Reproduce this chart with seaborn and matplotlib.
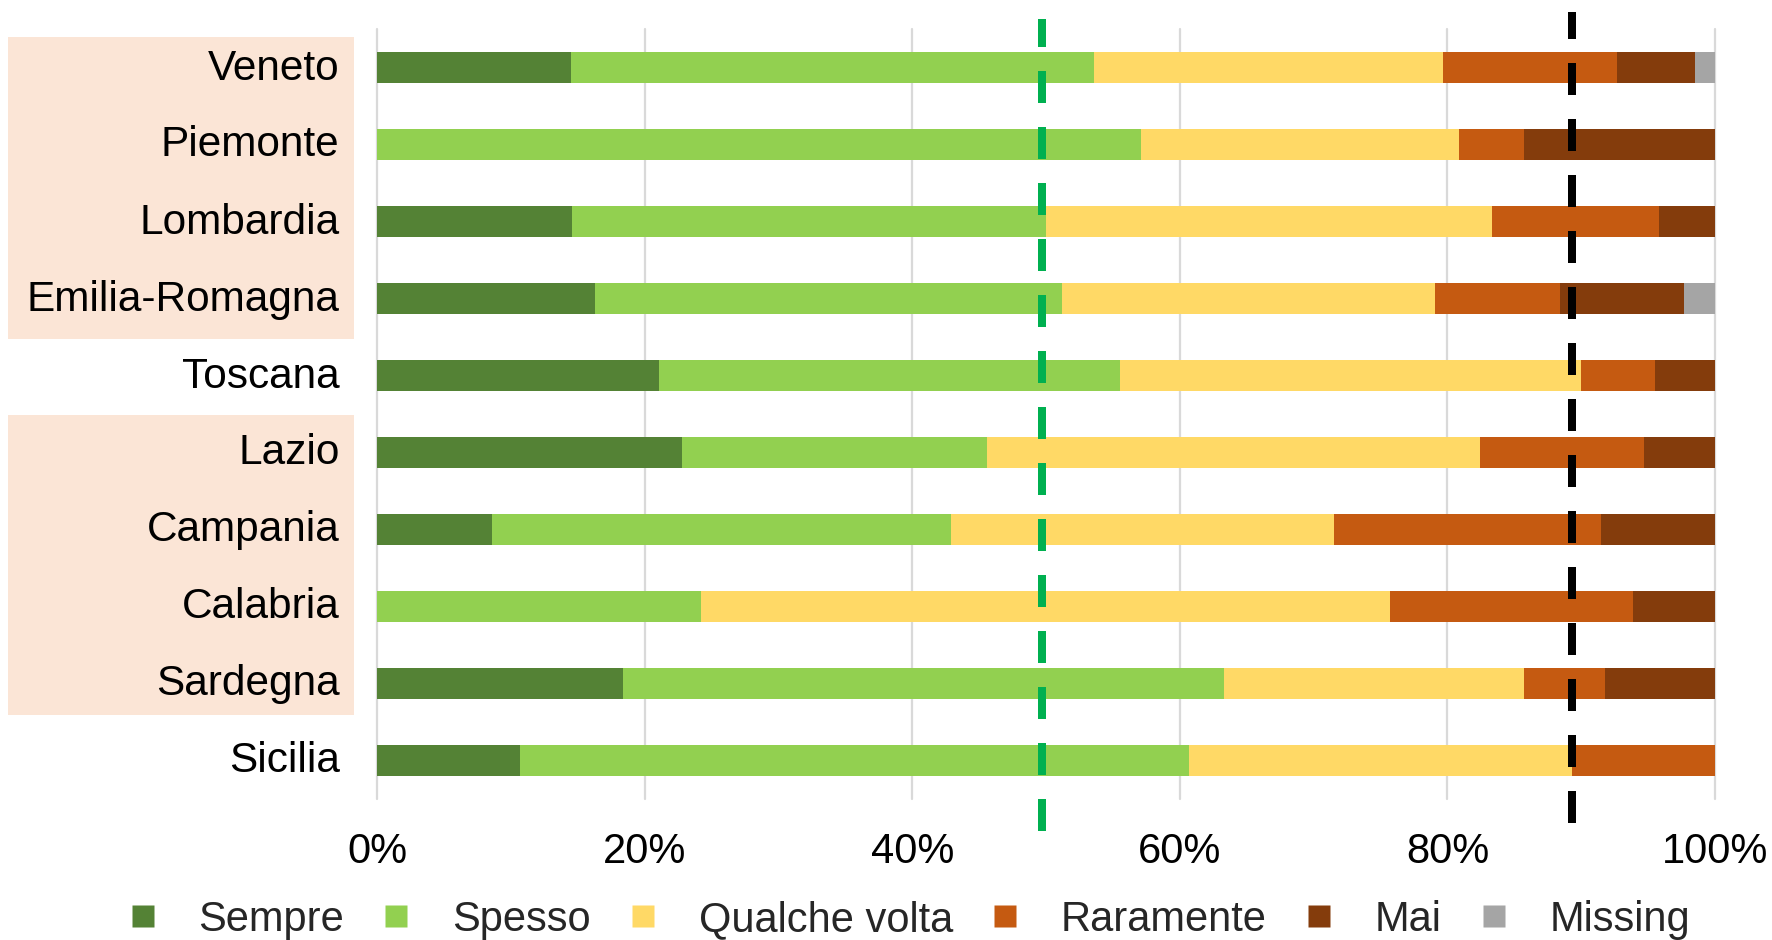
import matplotlib
matplotlib.use("Agg")
import matplotlib.pyplot as plt
from matplotlib.lines import Line2D
from matplotlib.patches import Rectangle
from matplotlib.transforms import ScaledTranslation
import numpy as np
import pandas as pd
import seaborn as sns

# Regioni e risposte (% per categoria)
regioni = ["Veneto", "Piemonte", "Lombardia", "Emilia-Romagna", "Toscana",
           "Lazio", "Campania", "Calabria", "Sardegna", "Sicilia"]
categorie = ["Sempre", "Spesso", "Qualche volta", "Raramente", "Mai", "Missing"]

sempre        = [14.5,  0.0, 14.6, 16.3, 21.1, 22.8,  8.6,  0.0, 18.4, 10.7]
spesso        = [39.1, 57.1, 35.4, 34.9, 34.4, 22.8, 34.3, 24.2, 44.9, 50.0]
qualche_volta = [26.1, 23.8, 33.3, 27.9, 34.5, 36.8, 28.6, 51.5, 22.4, 28.6]
raramente     = [13.0,  4.8, 12.5,  9.3,  5.5, 12.3, 20.0, 18.2,  6.1, 10.7]
mai           = [ 5.8, 14.3,  4.2,  9.3,  4.5,  5.3,  8.5,  6.1,  8.2,  0.0]
missing       = [ 1.5,  0.0,  0.0,  2.3,  0.0,  0.0,  0.0,  0.0,  0.0,  0.0]

soglia_verde = 49.7
soglia_nera = 89.3

colori = ["#548235", "#92D050", "#FFD966", "#C55A11", "#843C0C", "#A5A5A5"]
tick_pct = [0, 20, 40, 60, 80, 100]

serie = [sempre, spesso, qualche_volta, raramente, mai, missing]
df = pd.DataFrame(dict(zip(categorie, serie)), index=regioni)
cumul = df.cumsum(axis=1)

sns.set_theme(style="white")
plt.rcParams["font.family"] = ["Liberation Sans", "DejaVu Sans"]

W, H = 1772, 940
fig = plt.figure(figsize=(W / 100, H / 100), dpi=100)
fig.patch.set_facecolor("white")

# Fasce colorate dietro le etichette delle regioni
for y0, y1 in [(37, 339), (415, 715)]:
    fig.patches.append(Rectangle((8 / W, 1 - y1 / H), (354 - 8) / W, (y1 - y0) / H,
                                 transform=fig.transFigure, facecolor="#FBE5D6",
                                 edgecolor="none", zorder=-1))

ax = fig.add_axes([377 / W, 1 - 799 / H, (1715 - 377) / W, (799 - 29) / H])
ax.set_facecolor("none")

# Barre impilate: si disegna dalla somma cumulata più ampia verso la più piccola
for cat, col in reversed(list(zip(categorie, colori))):
    d = pd.DataFrame({"regione": regioni, "valore": cumul[cat].values})
    sns.barplot(data=d, x="valore", y="regione", order=regioni, color=col,
                width=0.41, linewidth=0, saturation=1, ax=ax, zorder=2)

ax.set_xlim(0, 100)
ax.set_ylim(9.5, -0.5)
ax.set_xticks(tick_pct)
ax.set_xticklabels([f"{t}%" for t in tick_pct])
ax.set_xlabel("")
ax.set_ylabel("")
ax.tick_params(axis="x", length=0, pad=24, labelsize=30, labelcolor="black")
ax.tick_params(axis="y", length=0, pad=27, labelsize=30.5, labelcolor="black")
su = ScaledTranslation(0, 3.5 / 100, fig.dpi_scale_trans)
for lab in ax.get_yticklabels():
    lab.set_transform(lab.get_transform() + su)
for s in ax.spines.values():
    s.set_visible(False)
ax.set_axisbelow(True)
ax.grid(axis="x", color="#D9D9D9", linewidth=1.6, clip_on=False, zorder=0)
ax.grid(axis="y", visible=False)

# Linee di riferimento tratteggiate
lw_ref = 5.76
ax.axvline(soglia_verde, ymin=-0.042, ymax=1.013, color="#00B050", lw=lw_ref,
           dashes=(4, 3), clip_on=False, zorder=5)
ax.axvline(soglia_nera, ymin=-0.031, ymax=1.022, color="black", lw=lw_ref,
           dashes=(4, 3), clip_on=False, zorder=5)

handles = [Line2D([], [], linestyle="none", marker="s", markersize=15.8,
                  markerfacecolor=c, markeredgecolor="none") for c in colori]
fig.legend(handles, categorie, loc="center", bbox_to_anchor=(910 / W, 20 / H),
           ncol=6, frameon=False, fontsize=30, handlelength=0.6,
           handletextpad=1.04, columnspacing=0.95, borderpad=0, borderaxespad=0)

fig.savefig("out.png", dpi=100, facecolor="white")
